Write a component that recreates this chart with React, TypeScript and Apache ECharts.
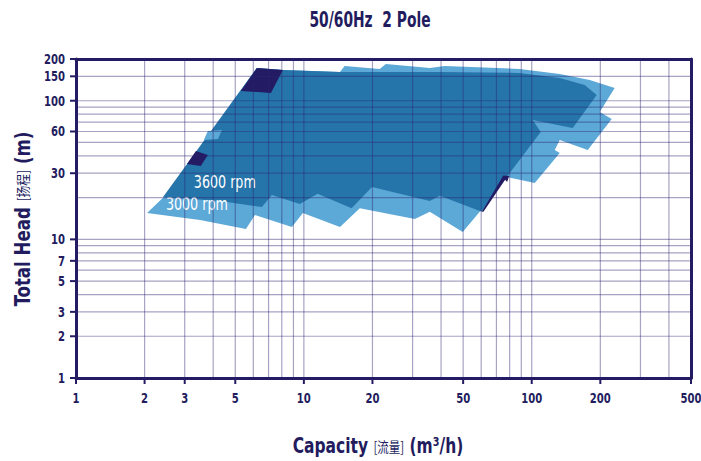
import React, { useEffect, useRef } from "react";
import * as echarts from "echarts";

// ---------- text ----------
const chartTitle = "50/60Hz  2 Pole";
const yAxisTitleMain = "Total Head ";
const yAxisTitleCn = "[扬程]";
const yAxisTitleUnit = " (m)";
const xAxisTitleMain = "Capacity ";
const xAxisTitleCn = "[流量]";
const xAxisTitleUnit = " (m³/h)";

// ---------- axes ----------
const xMin = 1;
const xMax = 500;
const yMin = 1;
const yMax = 200;
const xTickValues = [1, 2, 3, 5, 10, 20, 50, 100, 200, 500];
const yTickValues = [1, 2, 3, 5, 7, 10, 30, 60, 100, 150, 200];
const xGridValues = [2, 3, 4, 5, 6, 7, 8, 9, 10, 20, 30, 40, 50, 60, 70, 80, 90, 100, 200, 300, 400];
const yGridValues = [2, 3, 4, 5, 6, 7, 8, 9, 10, 20, 30, 40, 50, 60, 70, 80, 90, 100, 150];

// ---------- coverage ranges: [capacity m3/h, head m] ----------
const range3000rpm: number[][] = [
  [2.05, 15.5], [2.46, 20.6], [6.22, 172.5], [8.09, 166.8], [14.4, 161.4], [15.1, 178.3],
  [21.5, 169.6], [22.9, 184.3], [35.7, 172.5], [41.5, 178.3], [88.6, 169.6], [132.7, 156.1],
  [179.7, 141.3], [231.2, 123.7], [198.8, 83.0], [224.4, 73.9], [176.1, 44.2], [132.7, 52.1],
  [126.2, 44.2], [132.7, 42.0], [103.1, 25.5], [77.7, 28.2], [59.1, 15.8], [49.8, 11.3],
  [35.7, 15.8], [30.7, 14.0], [17.6, 16.8], [14.4, 12.3], [9.9, 15.5], [8.86, 12.3],
  [6.10, 15.0], [5.57, 11.9], [3.50, 13.8],
];
const range3600rpm: number[][] = [
  [2.41, 20.2], [6.22, 172.5], [8.09, 166.8], [14.4, 161.4], [39.5, 161.4], [88.6, 158.7],
  [132.7, 146.1], [170.8, 130.0], [192.8, 110.1], [151.3, 63.7], [101.0, 72.7], [109.5, 59.6],
  [77.7, 28.2], [60.4, 15.8], [39.5, 20.6], [35.7, 18.9], [19.9, 23.9], [16.2, 16.8],
  [11.5, 21.3], [9.6, 18.0], [7.24, 20.9], [6.54, 17.1], [4.28, 18.9],
];
const patchLight: number[][] = [[3.79, 60.5], [4.37, 61.6], [4.20, 53.0], [3.64, 52.1]];
const patchNavyTop: number[][] = [[6.22, 172.5], [8.09, 166.8], [7.17, 113.9], [5.29, 117.7]];
const patchNavyMid: number[][] = [[3.36, 43.4], [3.79, 40.6], [3.53, 33.8], [3.07, 35.0]];
const patchNavyEdge: number[][] = [[60.4, 15.8], [75.0, 28.9], [79.6, 28.6], [78.0, 25.9], [76.4, 26.9], [61.4, 15.8]];

const rpmLabelTexts = ["3600 rpm", "3000 rpm"];
const rpmLabelCapacity = [3.29, 2.48];
const rpmLabelHead = [25.5, 17.7];

// ---------- style ----------
const LIGHT = "#5ca8d7";
const DARK = "#2675aa";
const NAVY = "#231c64";
const GRID = "#2a2470";
const TEXT = "#221c5e";
const COND = "'DejaVu Sans Condensed', 'Liberation Sans Narrow', 'Noto Sans CJK SC', sans-serif";
const CJK = "'Noto Sans CJK SC', sans-serif";

function polygonSeries(name: string, pts: number[][], color: string, z: number) {
  return {
    type: "custom",
    name,
    silent: true,
    z,
    clip: false,
    data: [[pts[0][0], pts[0][1]]],
    renderItem: (_p: any, api: any) => ({
      type: "polygon",
      shape: { points: pts.map((p) => api.coord(p)) },
      style: { fill: color },
    }),
  };
}

export default function App() {
  const ref = useRef<HTMLDivElement>(null);
  useEffect(() => {
    if (!ref.current) return;
    const chart = echarts.init(ref.current, null, { renderer: "svg" });
    const logAxis = (min: number, max: number, position: string) => ({
      type: "log",
      logBase: 10,
      min,
      max,
      position,
      axisLine: { show: true, onZero: false, lineStyle: { color: NAVY, width: 3 } },
      axisTick: { show: false },
      axisLabel: { show: false },
      splitLine: { show: false },
      minorTick: { show: false },
      minorSplitLine: { show: false },
    });
    const gridData = [
      ...xGridValues.map((v) => [v, yMin, 0]),
      ...yGridValues.map((v) => [xMin, v, 1]),
    ];
    const tickData = [
      ...xTickValues.map((v) => [v, yMin, 0]),
      ...yTickValues.map((v) => [xMin, v, 1]),
    ];
    chart.setOption({
      animation: false,
      grid: { left: 76, right: 10, top: 59, bottom: 83 },
      xAxis: [logAxis(xMin, xMax, "bottom"), logAxis(xMin, xMax, "top")],
      yAxis: [logAxis(yMin, yMax, "left"), logAxis(yMin, yMax, "right")],
      graphic: [
        {
          type: "text",
          x: 370,
          y: 19,
          scaleX: 0.7,
          style: {
            text: chartTitle,
            fill: TEXT,
            fontFamily: COND,
            fontSize: 22,
            fontWeight: "bold",
            align: "center",
            verticalAlign: "middle",
          },
        },
        {
          type: "text",
          x: 22,
          y: 219,
          rotation: Math.PI / 2,
          scaleX: 0.84,
          style: {
            text: `{a|${yAxisTitleMain}}{b|${yAxisTitleCn}}{a|${yAxisTitleUnit}}`,
            align: "center",
            verticalAlign: "middle",
            rich: {
              a: { fill: TEXT, fontFamily: COND, fontSize: 22, fontWeight: "bold" },
              b: { fill: TEXT, fontFamily: CJK, fontSize: 14 },
            },
          },
        },
        {
          type: "text",
          x: 378,
          y: 446,
          scaleX: 0.82,
          style: {
            text: `{a|${xAxisTitleMain}}{b|${xAxisTitleCn}}{a|${xAxisTitleUnit}}`,
            align: "center",
            verticalAlign: "middle",
            rich: {
              a: { fill: TEXT, fontFamily: COND, fontSize: 21, fontWeight: "bold", lineHeight: 22 },
              b: { fill: TEXT, fontFamily: CJK, fontSize: 14, lineHeight: 22 },
            },
          },
        },
      ],
      series: [
        polygonSeries("3000 rpm", range3000rpm, LIGHT, 1),
        polygonSeries("3600 rpm", range3600rpm, DARK, 2),
        polygonSeries("patch light", patchLight, LIGHT, 3),
        polygonSeries("patch top", patchNavyTop, NAVY, 3),
        polygonSeries("patch mid", patchNavyMid, NAVY, 3),
        polygonSeries("patch edge", patchNavyEdge, NAVY, 3),
        {
          type: "custom",
          name: "rpm labels",
          silent: true,
          z: 4,
          clip: false,
          data: rpmLabelTexts.map((_t, i) => [rpmLabelCapacity[i], rpmLabelHead[i]]),
          renderItem: (p: any, api: any) => {
            const i = p.dataIndex;
            const c = api.coord([rpmLabelCapacity[i], rpmLabelHead[i]]);
            return {
              type: "text",
              x: c[0],
              y: c[1],
              scaleX: 0.83,
              style: {
                text: rpmLabelTexts[i],
                fill: "#ffffff",
                fontFamily: COND,
                fontSize: 17,
                align: "left",
                verticalAlign: "middle",
              },
            };
          },
        },
        {
          type: "custom",
          name: "grid lines",
          silent: true,
          z: 5,
          clip: false,
          data: gridData,
          renderItem: (p: any, api: any) => {
            const d = gridData[p.dataIndex];
            const a = d[2] === 0 ? api.coord([d[0], yMin]) : api.coord([xMin, d[1]]);
            const b = d[2] === 0 ? api.coord([d[0], yMax]) : api.coord([xMax, d[1]]);
            return {
              type: "line",
              shape: { x1: a[0], y1: a[1], x2: b[0], y2: b[1] },
              style: { stroke: GRID, lineWidth: 1.2, opacity: 0.42 },
            };
          },
        },
        {
          type: "custom",
          name: "ticks",
          silent: true,
          z: 6,
          clip: false,
          data: tickData,
          renderItem: (p: any, api: any) => {
            const d = tickData[p.dataIndex];
            if (d[2] === 0) {
              const c = api.coord([d[0], yMin]);
              return {
                type: "group",
                children: [
                  { type: "line", shape: { x1: c[0], y1: c[1], x2: c[0], y2: c[1] + 6 }, style: { stroke: NAVY, lineWidth: 2 } },
                  {
                    type: "text",
                    x: c[0],
                    y: c[1] + 20,
                    scaleX: 0.8,
                    style: { text: String(d[0]), fill: TEXT, fontFamily: COND, fontSize: 14, fontWeight: "bold", align: "center", verticalAlign: "middle" },
                  },
                ],
              };
            }
            const c = api.coord([xMin, d[1]]);
            return {
              type: "group",
              children: [
                { type: "line", shape: { x1: c[0], y1: c[1], x2: c[0] - 6, y2: c[1] }, style: { stroke: NAVY, lineWidth: 2 } },
                {
                  type: "text",
                  x: c[0] - 11,
                  y: c[1],
                  scaleX: 0.8,
                  style: { text: String(d[1]), fill: TEXT, fontFamily: COND, fontSize: 14, fontWeight: "bold", align: "right", verticalAlign: "middle" },
                },
              ],
            };
          },
        },
      ],
    });
    return () => chart.dispose();
  }, []);
  return <div ref={ref} style={{ position: "absolute", left: 0, top: 0, width: 701, height: 461 }} />;
}
